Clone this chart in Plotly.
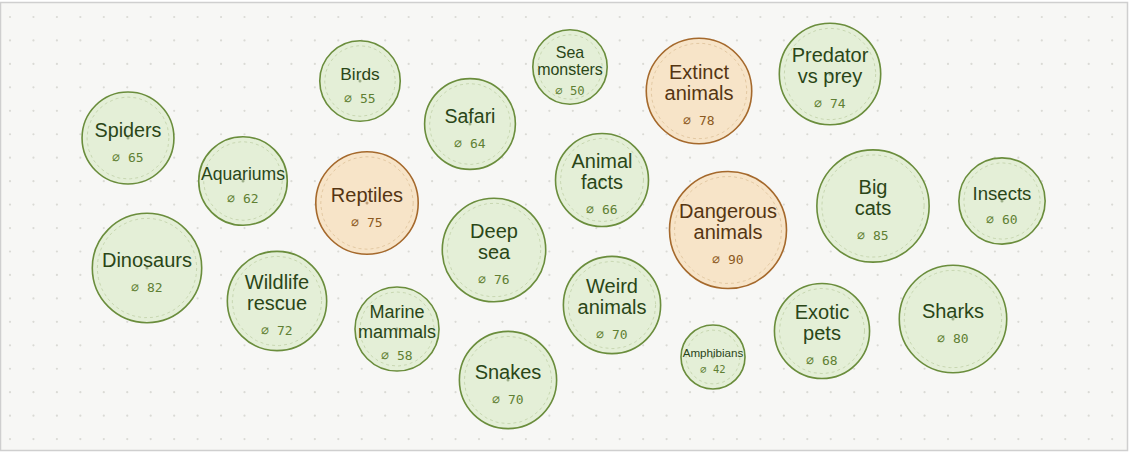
import numpy as np
import plotly.graph_objects as go

# ---------------- data ----------------
topics = ["Spiders", "Aquariums", "Dinosaurs", "Wildlife rescue", "Birds", "Reptiles",
          "Marine mammals", "Safari", "Deep sea", "Snakes", "Sea monsters", "Animal facts",
          "Weird animals", "Extinct animals", "Dangerous animals", "Amphibians",
          "Predator vs prey", "Big cats", "Exotic pets", "Insects", "Sharks"]
scores = [65, 62, 82, 72, 55, 75, 58, 64, 76, 70, 50, 66, 70, 78, 90, 42, 74, 85, 68, 60, 80]
highlighted = [False, False, False, False, False, True, False, False, False, False, False,
               False, False, True, True, False, False, False, False, False, False]
# packed-bubble layout (pixel space)
pack_x = [128, 243, 147, 277, 360, 367, 397, 470, 494, 508, 570, 602, 612, 699, 728, 713,
          830, 873, 822, 1002, 953]
pack_y = [138, 181, 268, 301, 81, 203, 329, 124, 250, 380, 67, 180, 305, 91, 230, 357,
          74, 206, 331, 201, 319]

W, H = 1138, 454

# ---------------- styles ----------------
GREEN = dict(fill="#e4efd7", stroke="#6a8d3c", ring="#c4d4ad", label="#2a4617", value="#5f7f33", dot="#9fb08a")
ORANGE = dict(fill="#f7e4c8", stroke="#a5692c", ring="#e0c59e", label="#553512", value="#8c5a22", dot="#c0a07a")

# sqrt radius scale
vmin, vmax = min(scores), max(scores)
rmin, rmax = 32.0, 58.5
def radius(v):
    t = (np.sqrt(v) - np.sqrt(vmin)) / (np.sqrt(vmax) - np.sqrt(vmin))
    return rmin + t * (rmax - rmin)

# Helvetica/Arial advance widths (em/1000)
WID = {'A': 667, 'B': 667, 'D': 722, 'E': 667, 'I': 278, 'P': 667, 'R': 667, 'S': 667, 'W': 944,
       'a': 556, 'b': 556, 'c': 500, 'd': 556, 'e': 556, 'f': 278, 'g': 556, 'h': 556, 'i': 222,
       'k': 500, 'l': 222, 'm': 833, 'n': 556, 'o': 556, 'p': 556, 'q': 556, 'r': 333, 's': 500,
       't': 278, 'u': 556, 'v': 500, 'x': 500, 'y': 500, ' ': 278}
def text_em(s):
    return sum(WID.get(c, 556) for c in s) / 1000.0

def wrap(label):
    words = label.split()
    if len(words) == 1:
        return [label]
    best = None
    for k in range(1, len(words)):
        a, b = " ".join(words[:k]), " ".join(words[k:])
        d = abs(len(a) - len(b))
        if best is None or d < best[0]:
            best = (d, [a, b])
    return best[1]

fig = go.Figure()

# background frame
fig.add_shape(type="rect", x0=0.5, y0=2.5, x1=W - 10.5, y1=H - 3.5, layer="below",
              line=dict(color="#cfcfcf", width=1.5), fillcolor="#f7f7f5")

# dot grid
gx = np.arange(10, W - 14, 23.45)
gy = np.arange(17, H - 6, 23.45)
GX, GY = np.meshgrid(gx, gy)
fig.add_trace(go.Scatter(x=GX.ravel(), y=GY.ravel(), mode="markers",
                         marker=dict(size=2.2, color="#dadad5"), hoverinfo="skip"))

radii = [radius(v) for v in scores]
for flag in (False, True):
    st = ORANGE if flag else GREEN
    idx = [i for i, h in enumerate(highlighted) if h == flag]
    xs = [pack_x[i] for i in idx]
    ys = [pack_y[i] for i in idx]
    fig.add_trace(go.Scatter(
        x=xs, y=ys, mode="markers", hoverinfo="skip",
        marker=dict(size=[2 * radii[i] for i in idx], sizemode="diameter", color=st["fill"],
                    opacity=1, line=dict(color=st["stroke"], width=1.6))))
    # inner dotted ring
    th = np.linspace(0, 2 * np.pi, 121)
    rx, ry = [], []
    for i in idx:
        rr = radii[i] - 5
        rx += list(pack_x[i] + rr * np.cos(th)) + [None]
        ry += list(pack_y[i] + rr * np.sin(th)) + [None]
    fig.add_trace(go.Scatter(x=rx, y=ry, mode="lines", hoverinfo="skip",
                             line=dict(color=st["ring"], width=0.9, dash="dot")))
    # centre dot
    fig.add_trace(go.Scatter(x=xs, y=ys, mode="markers", hoverinfo="skip",
                             marker=dict(size=3, color=st["dot"])))

# labels and values
lx, ly, lt, ls, lc = [], [], [], [], []
vx, vy, vt, vs, vc = [], [], [], [], []
for i, name in enumerate(topics):
    st = ORANGE if highlighted[i] else GREEN
    r = radii[i]
    lines = wrap(name)
    longest = max(text_em(s) for s in lines)
    fs = min(20.0, 0.43 * r, 1.9 * r / longest)
    lh = 1.08 * fs
    n = len(lines)
    centre = pack_y[i] - 0.42 * fs + 2
    for k, s in enumerate(lines):
        lx.append(pack_x[i]); ly.append(centre + (k - (n - 1) / 2) * lh)
        lt.append(s); ls.append(fs); lc.append(st["label"])
    vx.append(pack_x[i]); vy.append(centre + (n - 1) * lh * 0.45 + 1.38 * fs)
    vt.append("\u2300 %d" % scores[i]); vs.append(min(13.0, 0.33 * r)); vc.append(st["value"])

fig.add_trace(go.Scatter(x=lx, y=ly, text=lt, mode="text", textposition="middle center",
                         hoverinfo="skip",
                         textfont=dict(family="Liberation Sans, Arial, Helvetica", size=ls, color=lc)))
fig.add_trace(go.Scatter(x=vx, y=vy, text=vt, mode="text", textposition="middle center",
                         hoverinfo="skip",
                         textfont=dict(family="DejaVu Sans Mono, monospace", size=vs, color=vc)))

fig.update_layout(
    width=W, height=H, margin=dict(l=0, r=0, t=0, b=0),
    paper_bgcolor="white", plot_bgcolor="white", showlegend=False,
    xaxis=dict(range=[0, W], visible=False, fixedrange=True),
    yaxis=dict(range=[H, 0], visible=False, fixedrange=True),
)

fig.write_html("out.html", config={"displayModeBar": False})
